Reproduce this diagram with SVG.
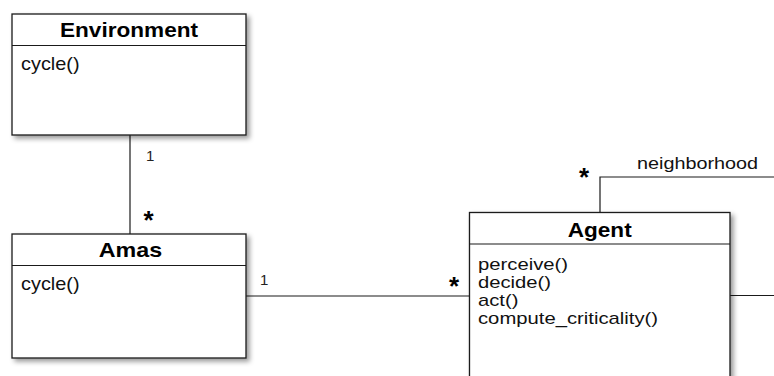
<svg xmlns="http://www.w3.org/2000/svg" width="774" height="376" viewBox="0 0 774 376">
<style>
.box{fill:#fff;stroke:#1a1a1a;stroke-width:1.3;filter:url(#sh)}
.sep{stroke:#1a1a1a;stroke-width:1.2}
.title{font-family:"Liberation Sans",Arial,sans-serif;font-weight:bold;font-size:20.5px;fill:#000;text-anchor:middle}
.op{font-family:"Liberation Sans",Arial,sans-serif;font-size:18.5px;fill:#111}
.ops{font-family:"Liberation Sans",Arial,sans-serif;font-size:16.2px;fill:#111}
.mult{font-family:"Liberation Sans",Arial,sans-serif;font-size:15px;fill:#222}
.star{font-family:"Liberation Sans",Arial,sans-serif;font-weight:bold;font-size:26px;fill:#000;text-anchor:middle}
.lbl{font-family:"Liberation Sans",Arial,sans-serif;font-size:16.5px;fill:#111}
.conn{fill:none;stroke:#1a1a1a;stroke-width:1.2}
</style>
<defs>
<filter id="sh" x="-10%" y="-10%" width="130%" height="130%">
<feDropShadow dx="3" dy="3" stdDeviation="2.4" flood-color="#000" flood-opacity="0.4"/>
</filter>
</defs>
<rect width="774" height="376" fill="#fff"/>
<g id="connectors">
<line class="conn" x1="130" y1="135" x2="130" y2="234"/>
<line class="conn" x1="246" y1="296" x2="469.5" y2="296"/>
<polyline class="conn" points="600,212.5 600,177 774,177"/>
<line class="conn" x1="730" y1="295.5" x2="774" y2="295.5"/>
<text class="mult" x="146" y="161">1</text>
<text class="star" x="148.5" y="229">*</text>
<text class="mult" x="260" y="285">1</text>
<text class="star" x="454" y="294.5">*</text>
<text class="star" x="584" y="186">*</text>
<text class="lbl" x="637" y="168.5" textLength="121" lengthAdjust="spacingAndGlyphs">neighborhood</text>
</g>
<g id="environment">
<rect class="box" x="12" y="14" width="234" height="121"/>
<line class="sep" x1="12" y1="45.5" x2="246" y2="45.5"/>
<text class="title" x="129" y="37" textLength="138" lengthAdjust="spacingAndGlyphs">Environment</text>
<text class="op" x="21" y="70" textLength="58.6" lengthAdjust="spacingAndGlyphs">cycle()</text>
</g>
<g id="amas">
<rect class="box" x="12" y="234" width="234" height="124"/>
<line class="sep" x1="12" y1="265.5" x2="246" y2="265.5"/>
<text class="title" x="130.5" y="257.3" textLength="63.4" lengthAdjust="spacingAndGlyphs">Amas</text>
<text class="op" x="21" y="290" textLength="58.6" lengthAdjust="spacingAndGlyphs">cycle()</text>
</g>
<g id="agent">
<rect class="box" x="469.5" y="212.5" width="260.5" height="180"/>
<line class="sep" x1="469.5" y1="244" x2="730" y2="244"/>
<text class="title" x="599.7" y="236.7" textLength="64" lengthAdjust="spacingAndGlyphs">Agent</text>
<text class="ops" x="478" y="269.5" textLength="90" lengthAdjust="spacingAndGlyphs">perceive()</text>
<text class="ops" x="478" y="287.5" textLength="73" lengthAdjust="spacingAndGlyphs">decide()</text>
<text class="ops" x="478" y="305.5" textLength="40.4" lengthAdjust="spacingAndGlyphs">act()</text>
<text class="ops" x="478" y="323.5" textLength="180" lengthAdjust="spacingAndGlyphs">compute_criticality()</text>
</g>
</svg>
